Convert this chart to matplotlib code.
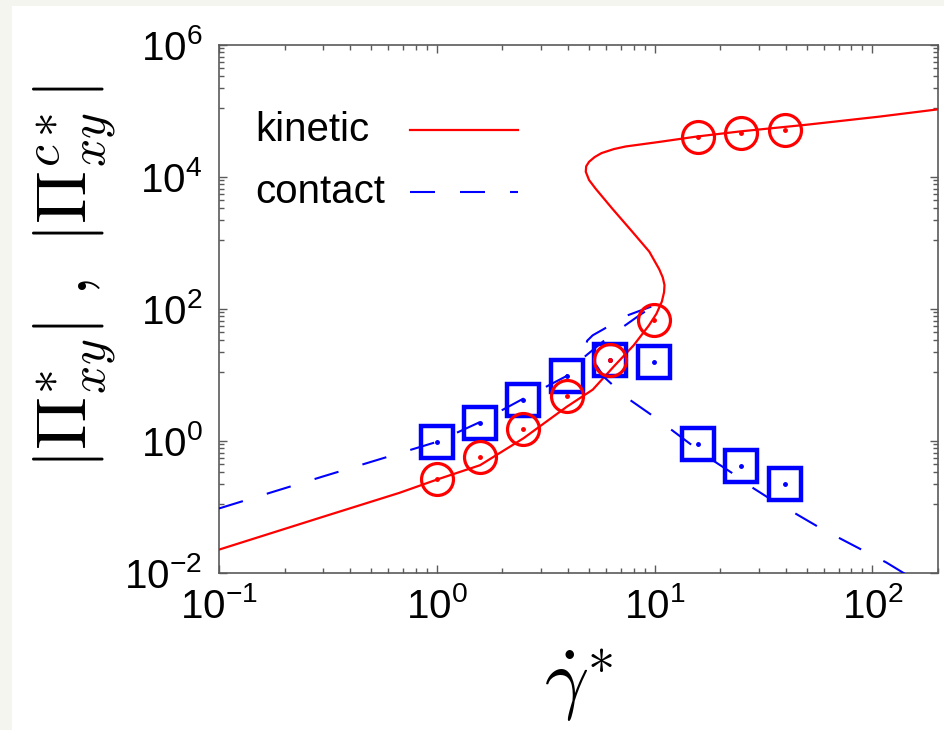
import numpy as np
import matplotlib
matplotlib.use("Agg")
import matplotlib.pyplot as plt
from matplotlib.ticker import FixedLocator, FuncFormatter, LogLocator, NullFormatter
from matplotlib.patches import Rectangle
from matplotlib.lines import Line2D

# ---------------- data ----------------
# simulation points
rate_pts = [1.0, 1.58, 2.5, 3.95, 6.25, 9.9, 15.85, 24.9, 39.5]
kinetic_pts = [0.268, 0.57, 1.5, 4.73, 16.8, 69, 4.1e4, 4.6e4, 5.1e4]
contact_pts = [0.97, 1.9, 4.2, 9.7, 16.8, 15.5, 0.89, 0.42, 0.225]

# theory curve, kinetic (S-shaped, ordered along the curve)
kin_x = [0.1, 0.3, 0.674, 1.0, 1.58, 2.5, 3.95, 5.2, 6.5, 8.0, 9.4, 10.2, 10.8,
         11.05, 11.1, 10.9, 10.5, 9.45, 7.9, 6.4, 5.35, 5.0, 4.83, 4.85, 5.0,
         5.3, 5.7, 6.5, 7.36, 10.5, 15.6, 24.6, 50, 107, 200]
kin_y = [0.0226, 0.071, 0.164, 0.26, 0.43, 1.1, 3.3, 6.0, 13.5, 28, 56, 85, 130,
         180, 230, 300, 400, 740, 1480, 3300, 6700, 9000, 12000, 14500, 17000,
         20000, 23000, 26500, 29000, 34000, 41000, 49000, 62000, 82000, 106000]

# theory curve, contact (ordered along the same S path)
con_x = [0.1, 0.3, 1.0, 1.57, 2.47, 3.93, 4.75, 5.98, 7.24, 8.5, 9.7, 10.5,
         9.0, 7.5, 6.5, 5.86, 5.2, 4.9, 4.85, 5.0, 5.4, 5.86, 7.4, 10.0, 14.4,
         17.7, 22.6, 27.9, 36, 44.5, 57, 71.5, 93, 116, 200]
con_y = [0.095, 0.29, 0.97, 1.92, 4.3, 9.6, 18.7, 35, 55, 80, 107, 120,
         100, 80, 62, 50, 40, 33, 28, 20, 14, 9.3, 4.6, 2.3, 0.93,
         0.56, 0.33, 0.2, 0.117, 0.079, 0.049, 0.033, 0.021, 0.0144, 0.0048]

series_labels = ["kinetic", "contact"]
x_major = [0.1, 1, 10, 100]
y_major = [1e-2, 1, 1e2, 1e4, 1e6]

RED = "#ff0000"
BLUE = "#0000ff"
FRAME = "#5a5a5a"

plt.rcParams["font.family"] = ["Liberation Sans", "DejaVu Sans"]
plt.rcParams["mathtext.fontset"] = "custom"
plt.rcParams["mathtext.rm"] = "Liberation Sans"
plt.rcParams["mathtext.it"] = "Liberation Sans:italic"
plt.rcParams["axes.unicode_minus"] = False

fig = plt.figure(figsize=(9.44, 7.30), dpi=100)
fig.patch.set_facecolor("#f3f5ee")
fig.patches.append(Rectangle((12 / 944, 0), 1, 1 - 6 / 730, transform=fig.transFigure,
                             facecolor="white", edgecolor="none", zorder=-10))

ax = fig.add_axes([219 / 944, (730 - 573) / 730, (938 - 219) / 944, (573 - 45) / 730])
ax.set_facecolor("white")
ax.set_xscale("log")
ax.set_yscale("log")
ax.set_xlim(0.1, 200)
ax.set_ylim(1e-2, 1e6)

ax.plot(kin_x, kin_y, color=RED, lw=1.6, zorder=3)
ax.plot(con_x, con_y, color=BLUE, lw=1.5, dashes=(12, 12), zorder=3)

ax.plot(rate_pts, contact_pts, ls="none", marker="s", ms=23, mfc="none",
        mec=BLUE, mew=3.2, zorder=4)
ax.plot(rate_pts, contact_pts, ls="none", marker="o", ms=2.5, color=BLUE, zorder=4)
ax.plot(rate_pts, kinetic_pts, ls="none", marker="o", ms=23, mfc="none",
        mec=RED, mew=2.3, zorder=5)
ax.plot(rate_pts, kinetic_pts, ls="none", marker="o", ms=2.5, color=RED, zorder=5)

# legend (drawn by hand so the labels are left aligned like the reference)
ax_w, ax_h = 938 - 219, 573 - 45
def ax_fx(px):
    return (px - 219) / ax_w
def ax_fy(py):
    return (573 - py) / ax_h
for i, (lab, col) in enumerate(zip(series_labels, [RED, BLUE])):
    yp = 130 + i * 62
    ax.text(ax_fx(255), ax_fy(yp), lab, transform=ax.transAxes, fontsize=29,
            va="center", ha="left")
    ln = Line2D([ax_fx(410), ax_fx(518)], [ax_fy(yp), ax_fy(yp)], transform=ax.transAxes,
                color=col, lw=1.6 if i == 0 else 1.5)
    if i == 1:
        ln.set_dashes((12, 12))
    ax.add_line(ln)

# ticks
ax.xaxis.set_major_locator(FixedLocator(x_major))
ax.xaxis.set_minor_locator(LogLocator(base=10, subs=np.arange(2, 10)))
ax.yaxis.set_major_locator(FixedLocator(y_major))
y_minor = []
for top in [1, 1e2, 1e4, 1e6]:
    for k in range(1, 9):
        y_minor.append(top * k / 9)
ax.yaxis.set_minor_locator(FixedLocator(y_minor))
fmt = FuncFormatter(lambda v, p: r"$\mathregular{10^{%d}}$" % int(round(np.log10(v))))
ax.xaxis.set_major_formatter(fmt)
ax.yaxis.set_major_formatter(fmt)
ax.xaxis.set_minor_formatter(NullFormatter())
ax.yaxis.set_minor_formatter(NullFormatter())
ax.tick_params(which="both", direction="in", top=True, right=True, color=FRAME,
               width=1.0, labelsize=29)
ax.tick_params(which="major", length=6)
ax.tick_params(which="minor", length=3.5)
ax.tick_params(axis="x", which="major", pad=10)
ax.tick_params(axis="y", which="major", pad=12)
for s in ax.spines.values():
    s.set_color(FRAME)
    s.set_linewidth(1.2)

ax.set_xlabel(r"$\dot{\gamma}^{*}$", fontsize=56, math_fontfamily="cm")
ax.xaxis.set_label_coords(0.5, -0.14)
ax.set_ylabel(r"$|\Pi^{*}_{xy}|\ ,\ |\Pi^{c*}_{xy}|$",
              fontsize=51, math_fontfamily="cm")
ax.yaxis.set_label_coords(-0.14, 0.56)

fig.savefig("out.png", dpi=100, facecolor=fig.get_facecolor())
